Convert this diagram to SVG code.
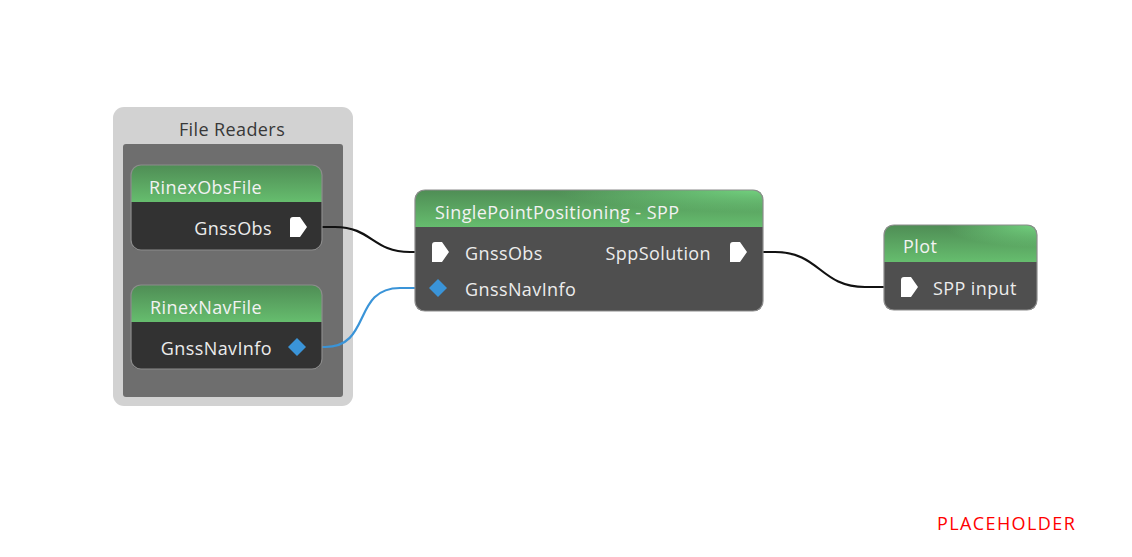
<svg xmlns="http://www.w3.org/2000/svg" width="1132" height="557" viewBox="0 0 1132 557">
<defs>
<linearGradient id="hdr" x1="0" y1="0" x2="0" y2="1">
<stop offset="0" stop-color="#4f8d55"/>
<stop offset="1" stop-color="#66bd6e"/>
</linearGradient>
<radialGradient id="hl" cx="1" cy="0" r="0.6" gradientUnits="objectBoundingBox">
<stop offset="0" stop-color="#76d883" stop-opacity="0.9"/>
<stop offset="1" stop-color="#76d883" stop-opacity="0"/>
</radialGradient>
<path id="pin" d="M0,-10 L10,-10 L17,0 L10,10 L0,10 L0,-7 Q0,-10 3,-10 Z" fill="#ffffff"/>
<path id="dia" d="M0,-9 L9,0 L0,9 L-9,0 Z" fill="#3a94d8"/>
</defs>
<style>
text{font-family:"Open Sans","Noto Sans",sans-serif;font-size:18px;letter-spacing:0.4px}
.hd{fill:#f2f2f2}
.tx{fill:#ececec}
.border{stroke:#8c8c8c;stroke-width:1.2}
.wire{fill:none;stroke-width:2.2}
</style>
<rect width="1132" height="557" fill="#ffffff"/>

<g id="group-file-readers">
<rect x="113" y="107" width="240" height="299" rx="11" fill="#d2d2d2"/>
<rect x="123" y="144" width="220" height="253" rx="3" fill="#6e6e6e"/>
<text x="232" y="136" text-anchor="middle" fill="#383838">File Readers</text>
</g>

<g id="connectors">
<path class="wire" stroke="#111111" d="M313,227 L335,227 C372,227 372,252 410,252 L425,252"/>
<path class="wire" stroke="#3a94d8" d="M313,347 L325,347 C372,347 352,288 400,288 L425,288"/>
<path class="wire" stroke="#111111" d="M753,252 L775,252 C820,252 820,287 865,287 L893,287"/>
</g>

<g id="node-rinexobsfile">
<path d="M131,202 L131,175 Q131,165 141,165 L312,165 Q322,165 322,175 L322,202 Z" fill="url(#hdr)"/>
<path d="M131,202 L322,202 L322,240 Q322,250 312,250 L141,250 Q131,250 131,240 Z" fill="#323232"/>
<rect x="131" y="165" width="191" height="85" rx="10" fill="none" class="border"/>
<text class="hd" x="149" y="194">RinexObsFile</text>
<text class="tx" x="272" y="235" text-anchor="end">GnssObs</text>
<use href="#pin" x="290" y="227"/>
</g>

<g id="node-rinexnavfile">
<path d="M131,322 L131,295 Q131,285 141,285 L312,285 Q322,285 322,295 L322,322 Z" fill="url(#hdr)"/>
<path d="M131,322 L322,322 L322,359 Q322,369 312,369 L141,369 Q131,369 131,359 Z" fill="#323232"/>
<rect x="131" y="285" width="191" height="84" rx="10" fill="none" class="border"/>
<text class="hd" x="150" y="314">RinexNavFile</text>
<text class="tx" x="272" y="355" text-anchor="end">GnssNavInfo</text>
<use href="#dia" x="297" y="347"/>
</g>

<g id="node-spp">
<path d="M415,227 L415,200 Q415,190 425,190 L753,190 Q763,190 763,200 L763,227 Z" fill="url(#hdr)"/>
<path d="M415,227 L415,200 Q415,190 425,190 L753,190 Q763,190 763,200 L763,227 Z" fill="url(#hl)"/>
<path d="M415,227 L763,227 L763,301 Q763,311 753,311 L425,311 Q415,311 415,301 Z" fill="#4f4f4f"/>
<rect x="415" y="190" width="348" height="121" rx="10" fill="none" class="border"/>
<text class="hd" x="435" y="219">SinglePointPositioning - SPP</text>
<use href="#pin" x="432" y="252"/>
<text class="tx" x="465" y="260">GnssObs</text>
<use href="#dia" x="438" y="288"/>
<text class="tx" x="465" y="296">GnssNavInfo</text>
<text class="tx" x="711" y="260" text-anchor="end">SppSolution</text>
<use href="#pin" x="730" y="252"/>
</g>

<g id="node-plot">
<path d="M884,262 L884,235 Q884,225 894,225 L1027,225 Q1037,225 1037,235 L1037,262 Z" fill="url(#hdr)"/>
<path d="M884,262 L884,235 Q884,225 894,225 L1027,225 Q1037,225 1037,235 L1037,262 Z" fill="url(#hl)"/>
<path d="M884,262 L1037,262 L1037,300 Q1037,310 1027,310 L894,310 Q884,310 884,300 Z" fill="#4f4f4f"/>
<rect x="884" y="225" width="153" height="85" rx="10" fill="none" class="border"/>
<text class="hd" x="903" y="253">Plot</text>
<use href="#pin" x="901" y="287"/>
<text class="tx" x="933" y="295">SPP input</text>
</g>

<text x="937" y="530" fill="#ff0000" style="font-size:18px;letter-spacing:1.4px">PLACEHOLDER</text>
</svg>
